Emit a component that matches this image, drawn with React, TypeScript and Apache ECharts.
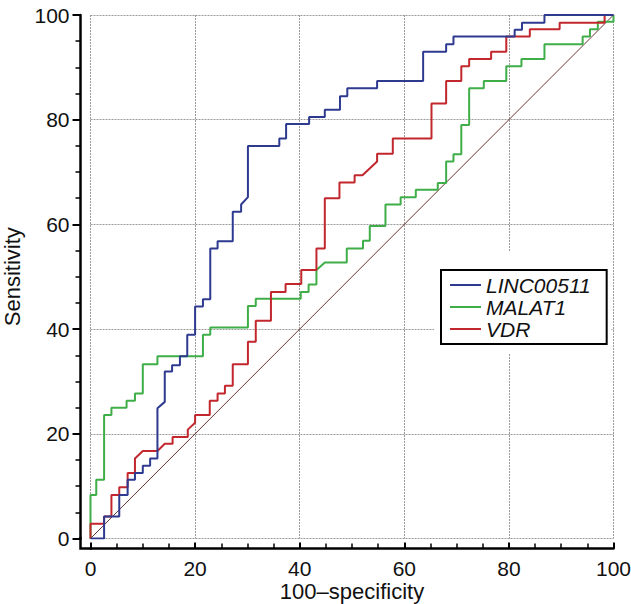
import React, { useEffect, useRef } from "react";
import * as echarts from "echarts";

const seriesNames = ["LINC00511", "MALAT1", "VDR"];
const seriesColors = ["#2e3a8f", "#3fae49", "#c1272d"];

// LINC00511 ROC vertices (100-specificity, sensitivity)
const lincX = [0, 2.6, 2.6, 5.5, 5.5, 7.1, 7.1, 8.5, 8.5, 10, 10, 11.4, 11.4, 12.8, 12.8, 14.2, 14.2, 15.6, 15.6, 17.1, 17.1, 18.5, 18.5, 20.0, 20.0, 21.5, 21.5, 22.9, 22.9, 24.3, 24.3, 27.2, 27.2, 28.8, 28.8, 30.1, 30.1, 36.1, 36.1, 37.4, 37.4, 41.8, 41.8, 44.8, 44.8, 47.7, 47.7, 49.1, 49.1, 54.8, 54.8, 63.6, 63.6, 68.0, 68.0, 69.4, 69.4, 81.1, 81.1, 82.5, 82.5, 86.8, 86.8, 100];
const lincY = [0, 0, 4.2, 4.2, 8.3, 8.3, 11.2, 11.2, 12.5, 12.5, 13.9, 13.9, 15.3, 15.3, 24.9, 26.1, 31.9, 31.9, 33.1, 33.1, 34.8, 34.8, 38.9, 38.9, 44.3, 44.3, 45.7, 45.7, 55.4, 55.4, 56.8, 56.8, 62.4, 62.4, 63.8, 65.2, 75.0, 75.0, 76.4, 76.4, 79.2, 79.2, 80.5, 80.5, 81.9, 81.9, 84.5, 84.5, 86.0, 86.0, 87.4, 87.4, 93.0, 93.0, 94.4, 94.4, 95.9, 95.9, 97.2, 97.2, 98.5, 98.5, 100, 100];

// MALAT1
const malatX = [0, 0, 1.1, 1.1, 2.6, 2.6, 4.0, 4.0, 6.9, 6.9, 8.5, 8.5, 10.0, 10.0, 12.8, 12.8, 21.5, 21.5, 22.9, 22.9, 30.1, 30.1, 31.6, 31.6, 40.2, 40.2, 41.7, 41.7, 43.2, 43.2, 44.8, 49.0, 49.0, 52.1, 52.1, 53.4, 53.4, 56.4, 56.4, 59.3, 59.3, 62.2, 62.2, 66.4, 66.4, 68.0, 68.0, 69.4, 69.4, 70.9, 70.9, 72.4, 72.4, 75.2, 75.2, 79.5, 79.5, 82.4, 82.4, 86.8, 86.8, 94.1, 94.1, 95.5, 95.5, 97.0, 97.0, 100, 100];
const malatY = [0, 8.3, 8.3, 11.2, 11.2, 23.6, 23.6, 25.0, 25.0, 26.3, 26.3, 27.7, 27.7, 33.3, 33.3, 34.8, 34.8, 38.9, 38.9, 40.3, 40.3, 44.4, 44.4, 45.8, 45.8, 47.1, 47.1, 48.5, 48.5, 51.3, 52.7, 52.7, 55.4, 55.4, 56.9, 56.9, 59.7, 59.7, 63.8, 63.8, 65.2, 65.2, 66.6, 66.6, 67.9, 67.9, 72.0, 72.0, 73.4, 73.4, 79.0, 79.0, 86.0, 86.0, 87.4, 87.4, 90.2, 90.2, 91.6, 91.6, 94.4, 94.4, 95.9, 95.9, 97.3, 97.3, 98.7, 98.7, 100];

// VDR
const vdrX = [0, 0, 2.6, 2.6, 4.0, 4.0, 5.5, 5.5, 7.1, 7.1, 8.5, 8.5, 10.0, 12.8, 14.2, 15.7, 15.7, 18.6, 18.6, 20.0, 20.0, 22.8, 22.8, 24.3, 24.3, 25.7, 25.7, 27.2, 27.2, 30.1, 30.1, 31.6, 31.6, 34.5, 34.5, 37.3, 37.3, 40.3, 40.3, 43.2, 43.2, 44.8, 44.8, 47.6, 47.6, 50.5, 50.5, 52.0, 54.8, 54.8, 57.8, 57.8, 65.2, 65.2, 68.0, 68.0, 70.9, 70.9, 72.4, 72.4, 76.6, 76.6, 79.5, 79.5, 84.0, 84.0, 89.7, 89.7, 98.3, 98.3, 100];
const vdrY = [0, 2.8, 2.8, 4.2, 4.2, 8.3, 8.3, 9.8, 9.8, 12.5, 12.5, 15.3, 16.7, 16.7, 18.1, 18.1, 19.4, 19.4, 20.8, 22.1, 23.6, 23.6, 26.3, 26.3, 27.7, 27.7, 29.2, 29.2, 33.3, 33.3, 37.6, 37.6, 41.6, 41.6, 47.1, 47.1, 48.6, 48.6, 51.3, 51.3, 55.4, 55.4, 65.0, 65.0, 68.0, 68.0, 69.4, 69.4, 72.0, 73.5, 73.5, 76.4, 76.4, 83.1, 83.1, 87.4, 87.4, 90.2, 90.2, 91.6, 91.6, 93.0, 93.0, 95.9, 95.9, 97.3, 97.3, 98.5, 98.5, 100, 100];

const refX = [0, 100];
const refY = [0, 100];

const tickValues = [0, 20, 40, 60, 80, 100];

const zip = (xs: number[], ys: number[]) => xs.map((x, i) => [x, ys[i]]);

const FONT = "'Liberation Sans', Arial, sans-serif";

export default function App() {
  const ref = useRef<HTMLDivElement>(null);
  useEffect(() => {
    if (!ref.current) return;
    const chart = echarts.init(ref.current, undefined, { renderer: "svg" });
    const axisCommon = {
      type: "value" as const,
      min: tickValues[0],
      max: tickValues[tickValues.length - 1],
      interval: 20,
      offset: 10,
      nameLocation: "middle" as const,
      nameMoveOverlap: false,
      nameTextStyle: { fontSize: 22, color: "#111", fontFamily: FONT },
      axisLine: { show: true, onZero: false, lineStyle: { color: "#000", width: 2.5 } },
      axisLabel: { fontSize: 21, color: "#111", fontFamily: FONT },
      minorTick: { show: true, splitNumber: 4, length: 5, lineStyle: { color: "#000", width: 1.5 } },
      splitLine: { show: true, lineStyle: { color: "#9a9a9a", width: 1, type: [2, 1] } },
    };
    chart.setOption({
      animation: false,
      backgroundColor: "#fff",
      grid: { left: 90.5, right: 17.5, top: 15, bottom: 65.5, outerBoundsMode: "none", containLabel: false },
      xAxis: {
        ...axisCommon,
        name: "100\u2013specificity",
        nameGap: 32,
        axisTick: { show: true, inside: true, length: 6, lineStyle: { color: "#000", width: 2 } },
        axisLabel: { ...axisCommon.axisLabel, margin: 9 },
      },
      yAxis: {
        ...axisCommon,
        name: "Sensitivity",
        nameGap: 57,
        axisTick: { show: true, inside: false, length: 8, lineStyle: { color: "#000", width: 2 } },
        axisLabel: { ...axisCommon.axisLabel, margin: 11 },
      },
      legend: {
        data: seriesNames,
        orient: "vertical",
        left: 441,
        top: 270,
        padding: [4, 16, 4, 9],
        itemGap: 0,
        itemWidth: 31,
        itemHeight: 2,
        icon: "rect",
        borderColor: "#000",
        borderWidth: 2,
        backgroundColor: "#fff",
        textStyle: { fontSize: 21, fontStyle: "italic", color: "#111", fontFamily: FONT, lineHeight: 22 },
      },
      graphic: [
        { type: "rect", z: 3, shape: { x: 434, y: 252, width: 177, height: 102 }, style: { fill: "#fff" } },
        {
          type: "polyline",
          z: 5,
          shape: { points: [[80.5, 537], [80.5, 548.5], [92, 548.5]] },
          style: { stroke: "#000", lineWidth: 2.5, fill: "none" },
        },
      ],
      series: [
        {
          name: seriesNames[0],
          type: "line",
          data: zip(lincX, lincY),
          showSymbol: false,
          color: seriesColors[0],
          lineStyle: { width: 2, color: seriesColors[0] },
          z: 4,
        },
        {
          name: seriesNames[1],
          type: "line",
          data: zip(malatX, malatY),
          showSymbol: false,
          color: seriesColors[1],
          lineStyle: { width: 2, color: seriesColors[1] },
          z: 3,
        },
        {
          name: seriesNames[2],
          type: "line",
          data: zip(vdrX, vdrY),
          showSymbol: false,
          color: seriesColors[2],
          lineStyle: { width: 2, color: seriesColors[2] },
          z: 3,
        },
        {
          name: "reference",
          type: "line",
          data: zip(refX, refY),
          showSymbol: false,
          color: "#6b3535",
          lineStyle: { width: 1, color: "#6b3535" },
          z: 2,
        },
      ],
    });
    return () => chart.dispose();
  }, []);
  return (
    <div
      ref={ref}
      style={{ position: "absolute", left: 0, top: 0, width: 631, height: 604 }}
    />
  );
}
